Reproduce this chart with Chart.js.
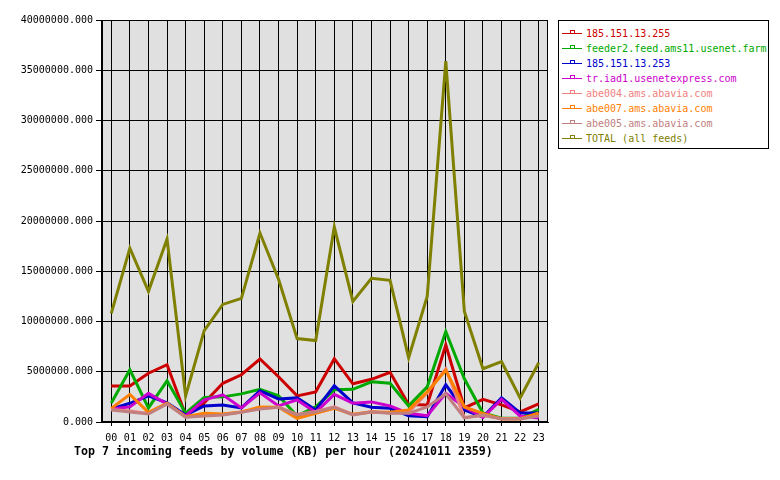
<!DOCTYPE html>
<html>
<head>
<meta charset="utf-8">
<script src="https://cdn.jsdelivr.net/npm/chart.js@4/dist/chart.umd.min.js"></script>
<style>
  body { margin: 0; background: #fff; }
  #wrap { position: relative; width: 780px; height: 480px; }
  #legend {
    position: absolute; left: 558px; top: 20px; width: 211px; height: 129px;
    border: 1px solid #000; box-sizing: border-box; background: #fff;
    font: 10px "DejaVu Sans Mono", monospace; padding-top: 5px;
  }
  .item { height: 15px; line-height: 15px; white-space: nowrap; position: relative; padding-left: 27px; }
  .item .ln { position: absolute; left: 3px; top: 7px; width: 20px; height: 0; border-top: 1px solid; }
  .item .mk { position: absolute; left: 11px; top: 4px; width: 3px; height: 2px; border: 1px solid; border-bottom: none; background: #fff; }
  #title {
    position: absolute; left: 74px; top: 444px;
    font: bold 11.6px "DejaVu Sans Mono", monospace; color: #000; white-space: nowrap;
  }
</style>
</head>
<body>
<div id="wrap">
  <canvas id="chart"></canvas>
  <div id="legend"></div>
  <div id="title">Top 7 incoming feeds by volume (KB) per hour (20241011 2359)</div>
</div>
<script>
// hours
const hours = ["00","01","02","03","04","05","06","07","08","09","10","11",
               "12","13","14","15","16","17","18","19","20","21","22","23"];

// feed names
const feeds = [
  "185.151.13.255",
  "feeder2.feed.ams11.usenet.farm",
  "185.151.13.253",
  "tr.iad1.usenetexpress.com",
  "abe004.ams.abavia.com",
  "abe007.ams.abavia.com",
  "abe005.ams.abavia.com",
  "TOTAL (all feeds)"
];

const feedColors = ["#cc0000", "#00aa00", "#0000cc", "#cc00cc", "#f08080", "#ff8000", "#c08080", "#808000"];

// KB per hour
const red255 = [3580000, 3580000, 4850000, 5700000, 700000, 1900000, 3850000, 4700000, 6270000, 4500000, 2600000, 3000000,
                6300000, 3800000, 4250000, 4950000, 1750000, 1700000, 7660000, 1400000, 2250000, 1700000, 1000000, 1800000];
const feeder2 = [1900000, 5200000, 1400000, 4100000, 870000, 2450000, 2500000, 2800000, 3250000, 2600000, 600000, 1500000,
                 3200000, 3250000, 4000000, 3850000, 1600000, 3500000, 9000000, 4300000, 900000, 370000, 370000, 1260000];
const blue253 = [1300000, 1860000, 2600000, 1900000, 700000, 1600000, 1700000, 1400000, 3100000, 2300000, 2400000, 1200000,
                 3600000, 1900000, 1460000, 1360000, 630000, 530000, 3700000, 1200000, 500000, 2400000, 900000, 900000];
const iad1 = [1300000, 1500000, 2850000, 1800000, 600000, 2200000, 2700000, 1400000, 2900000, 1600000, 2200000, 960000,
              2750000, 1860000, 2000000, 1600000, 860000, 630000, 2850000, 1500000, 450000, 2250000, 600000, 400000];
const abe004 = [1250000, 1100000, 850000, 1850000, 500000, 650000, 750000, 1000000, 1350000, 1500000, 750000, 1050000,
                1500000, 750000, 1050000, 900000, 950000, 2900000, 5300000, 450000, 650000, 350000, 350000, 650000];
const abe007 = [1360000, 2750000, 960000, 1860000, 530000, 860000, 800000, 1000000, 1500000, 1460000, 370000, 860000,
                1360000, 760000, 1000000, 960000, 1200000, 3000000, 5150000, 1500000, 860000, 300000, 300000, 900000];
const abe005 = [1200000, 1000000, 800000, 1800000, 470000, 600000, 700000, 960000, 1300000, 1460000, 700000, 1000000,
                1460000, 700000, 1000000, 860000, 860000, 1500000, 2800000, 400000, 700000, 300000, 300000, 600000];
const total = [10800000, 17300000, 13000000, 18200000, 2600000, 9100000, 11700000, 12300000, 18800000, 14200000, 8300000, 8100000,
               19400000, 12000000, 14300000, 14100000, 6400000, 12500000, 35900000, 11000000, 5300000, 6000000, 2400000, 5900000];

const series = [red255, feeder2, blue253, iad1, abe004, abe007, abe005, total];

// plot background + frame
const plotBg = {
  id: "plotBg",
  beforeDraw(chart) {
    const { ctx, chartArea: a } = chart;
    ctx.save();
    ctx.fillStyle = "#e0e0e0";
    ctx.fillRect(a.left, a.top, a.right - a.left, a.bottom - a.top);
    ctx.restore();
  },
  afterDraw(chart) {
    const { ctx, chartArea: a } = chart;
    ctx.save();
    ctx.strokeStyle = "#000";
    ctx.lineWidth = 1;
    ctx.strokeRect(Math.round(a.left) - 0.5, Math.round(a.top) + 0.5, Math.round(a.right - a.left), Math.round(a.bottom - a.top) - 1);
    ctx.restore();
  }
};

const n = series.length;
const datasets = series.map((d, i) => ({
  label: feeds[i],
  data: d,
  borderColor: feedColors[i],
  backgroundColor: feedColors[i],
  borderWidth: 3,
  pointRadius: 0,
  tension: 0,
  order: n - i
}));

const tickFont = { family: "DejaVu Sans Mono", size: 10 };

new Chart(document.getElementById("chart"), {
  type: "line",
  data: { labels: hours, datasets: datasets },
  options: {
    responsive: true,
    maintainAspectRatio: false,
    animation: false,
    layout: { padding: { left: 0, top: 20, right: 232, bottom: 28 } },
    plugins: { legend: { display: false }, tooltip: { enabled: false } },
    scales: {
      x: {
        offset: true,
        grid: { color: "#000", lineWidth: 1, tickLength: 4, offset: false },
        border: { color: "#000" },
        ticks: { color: "#000", font: tickFont, maxRotation: 0, autoSkip: false, padding: 6 },
        afterFit(scale) { scale.height = 30; }
      },
      y: {
        min: 0,
        max: 40000000,
        grid: { color: "#000", lineWidth: 1, tickLength: 6 },
        border: { color: "#000" },
        ticks: {
          color: "#000", font: tickFont, stepSize: 5000000, padding: 3,
          callback: v => v.toFixed(3)
        },
        afterFit(scale) { scale.width = 102; }
      }
    }
  },
  plugins: [plotBg]
});

// legend
const legend = document.getElementById("legend");
feeds.forEach((name, i) => {
  legend.innerHTML += `
    <div class="item" style="color:${feedColors[i]}">
      <span class="ln"></span><span class="mk"></span>${name}
    </div>`;
});
</script>
</body>
</html>
